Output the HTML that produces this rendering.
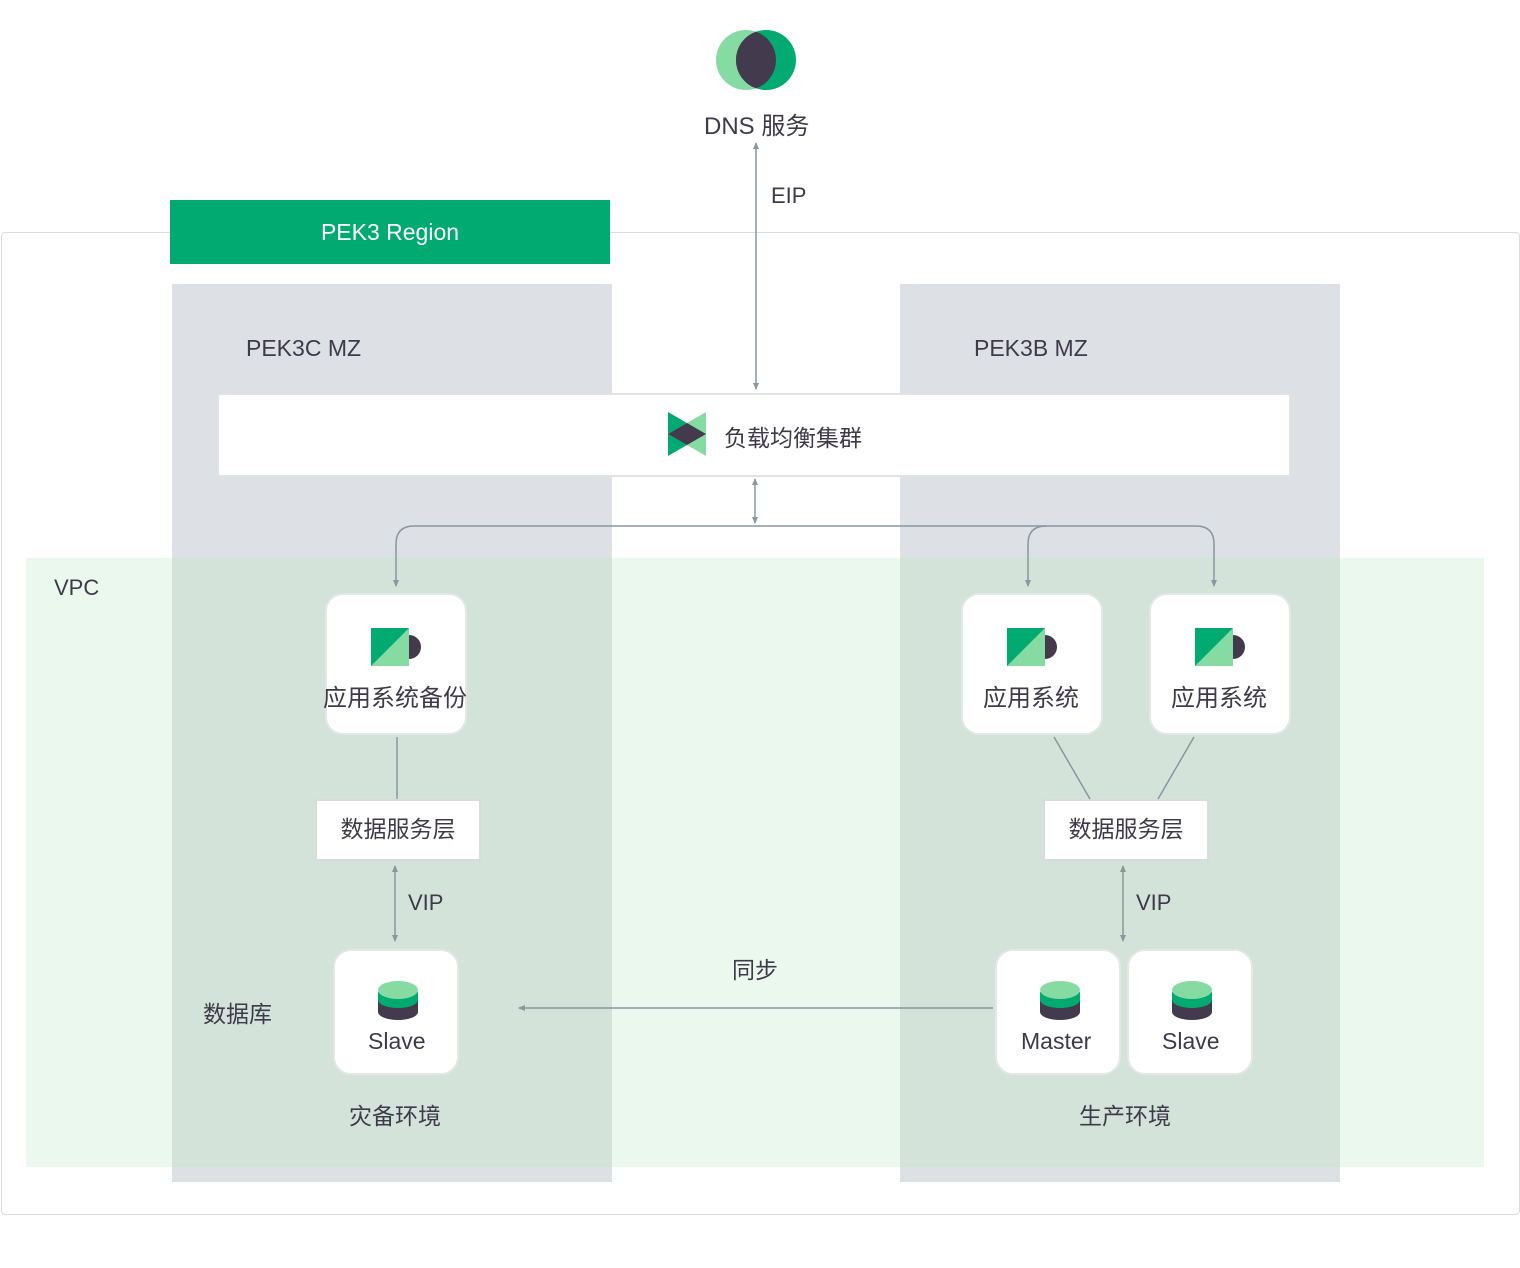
<!DOCTYPE html>
<html><head><meta charset="utf-8"><style>
body{margin:0;width:1520px;height:1268px;background:#fff;position:relative;overflow:hidden;font-family:"Liberation Sans","Noto Sans CJK SC",sans-serif;color:#3f3a4a}
.a{position:absolute}
.card{position:absolute;background:#fff;border:2px solid #e4e6e8;border-radius:18px;box-sizing:border-box}
.t{position:absolute;font-size:22px;white-space:nowrap}
.box{position:absolute;background:#fff;border:2px solid #d8dadd;box-sizing:border-box;font-size:22px;text-align:center}
</style></head><body>
<div class="a" style="left:1px;top:232px;width:1517px;height:981px;border:1.5px solid #dcdcdc;border-radius:4px"></div>
<div class="a" style="left:172px;top:284px;width:440px;height:898px;background:#dde0e5"></div>
<div class="a" style="left:900px;top:284px;width:440px;height:898px;background:#dde0e5"></div>
<div class="a" style="left:26px;top:558px;width:1458px;height:609px;background:#ebf8ee"></div>
<div class="a" style="left:172px;top:558px;width:440px;height:609px;background:#d3e3da"></div>
<div class="a" style="left:900px;top:558px;width:440px;height:609px;background:#d3e3da"></div>
<div class="a" style="left:170px;top:200px;width:440px;height:64px;background:#00aa71;color:#fff;font-size:23px;line-height:64px;text-align:center">PEK3 Region</div>
<div class="t" style="left:246px;top:335px;font-size:23px">PEK3C MZ</div>
<div class="t" style="left:974px;top:335px;font-size:23px">PEK3B MZ</div>
<div class="t" style="left:54px;top:575px">VPC</div>
<div class="box" style="left:217px;top:393px;width:1074px;height:84px;border-color:#e0e2e4"></div>
<div class="card" style="left:325px;top:593px;width:142px;height:142px"></div>
<div class="card" style="left:961px;top:593px;width:142px;height:142px"></div>
<div class="card" style="left:1149px;top:593px;width:142px;height:142px"></div>
<div class="box" style="left:315px;top:799px;width:166px;height:62px;line-height:56px;font-size:23px">数据服务层</div>
<div class="box" style="left:1043px;top:799px;width:166px;height:62px;line-height:56px;font-size:23px">数据服务层</div>
<div class="card" style="left:333px;top:949px;width:126px;height:126px"></div>
<div class="card" style="left:995px;top:949px;width:126px;height:126px"></div>
<div class="card" style="left:1127px;top:949px;width:126px;height:126px"></div>
<svg class="a" style="left:0;top:0" width="1520" height="1268">
<defs><marker id="m" markerWidth="8" markerHeight="8" refX="6" refY="4" orient="auto-start-reverse" markerUnits="userSpaceOnUse"><path d="M0,1 L7,4 L0,7z" fill="#8a96a0"/></marker></defs>
<g stroke="#8a96a0" stroke-width="1.5" fill="none">
<line x1="756" y1="143" x2="756" y2="389" marker-start="url(#m)" marker-end="url(#m)"/>
<line x1="755" y1="479" x2="755" y2="523" marker-start="url(#m)" marker-end="url(#m)"/>
<path d="M1214,586 V544 Q1214,526 1196,526 H414 Q396,526 396,544 V586" marker-start="url(#m)" marker-end="url(#m)"/>
<path d="M1028,586 V544 Q1028,526 1046,526" marker-start="url(#m)"/>
<line x1="397" y1="737" x2="397" y2="799"/>
<line x1="1054" y1="737" x2="1090" y2="799"/>
<line x1="1194" y1="737" x2="1158" y2="799"/>
<line x1="395" y1="866" x2="395" y2="941" marker-start="url(#m)" marker-end="url(#m)"/>
<line x1="1123" y1="866" x2="1123" y2="941" marker-start="url(#m)" marker-end="url(#m)"/>
<line x1="993" y1="1008" x2="519" y2="1008" marker-end="url(#m)"/>
</g>
<circle cx="746" cy="60" r="30" fill="#86dba3"/>
<circle cx="766" cy="60" r="30" fill="#00aa71"/>
<path d="M756,31.7 A30,30 0 0 1 756,88.3 A30,30 0 0 1 756,31.7z" fill="#433b4d"/>
<polygon points="668,412 706,434 668,456" fill="#00aa71"/>
<polygon points="706,412 668,434 706,456" fill="#86dba3"/>
<polygon points="668,434 687,423 706,434 687,445" fill="#433b4d"/>
<g id="ic"><circle cx="409" cy="647" r="12" fill="#433b4d"/><rect x="371" y="628" width="38" height="38" fill="#86dba3"/><polygon points="371,628 409,628 371,666" fill="#00aa71"/></g>
<use href="#ic" x="636"/><use href="#ic" x="824"/>
<g id="db"><path d="M378,1000 v12 a20,8 0 0 0 40,0 v-12z" fill="#433b4d"/><path d="M378,992 v8 a20,8 0 0 0 40,0 v-8z" fill="#00aa71"/><ellipse cx="398" cy="990" rx="20" ry="9" fill="#86dba3"/></g>
<use href="#db" x="662"/><use href="#db" x="794"/>
</svg>
<div class="t" style="left:704px;top:106px;font-size:24px">DNS 服务</div>
<div class="t" style="left:771px;top:183px">EIP</div>
<div class="t" style="left:724px;top:419px;font-size:23px">负载均衡集群</div>
<div class="t" style="left:323px;top:678px;font-size:24px">应用系统备份</div>
<div class="t" style="left:983px;top:678px;font-size:24px">应用系统</div>
<div class="t" style="left:1171px;top:678px;font-size:24px">应用系统</div>
<div class="t" style="left:408px;top:890px">VIP</div>
<div class="t" style="left:1136px;top:890px">VIP</div>
<div class="t" style="left:732px;top:951px;font-size:23px">同步</div>
<div class="t" style="left:203px;top:995px;font-size:23px">数据库</div>
<div class="t" style="left:368px;top:1028px;font-size:23px">Slave</div>
<div class="t" style="left:1021px;top:1028px;font-size:23px">Master</div>
<div class="t" style="left:1162px;top:1028px;font-size:23px">Slave</div>
<div class="t" style="left:349px;top:1097px;font-size:23px">灾备环境</div>
<div class="t" style="left:1079px;top:1097px;font-size:23px">生产环境</div>
</body></html>
